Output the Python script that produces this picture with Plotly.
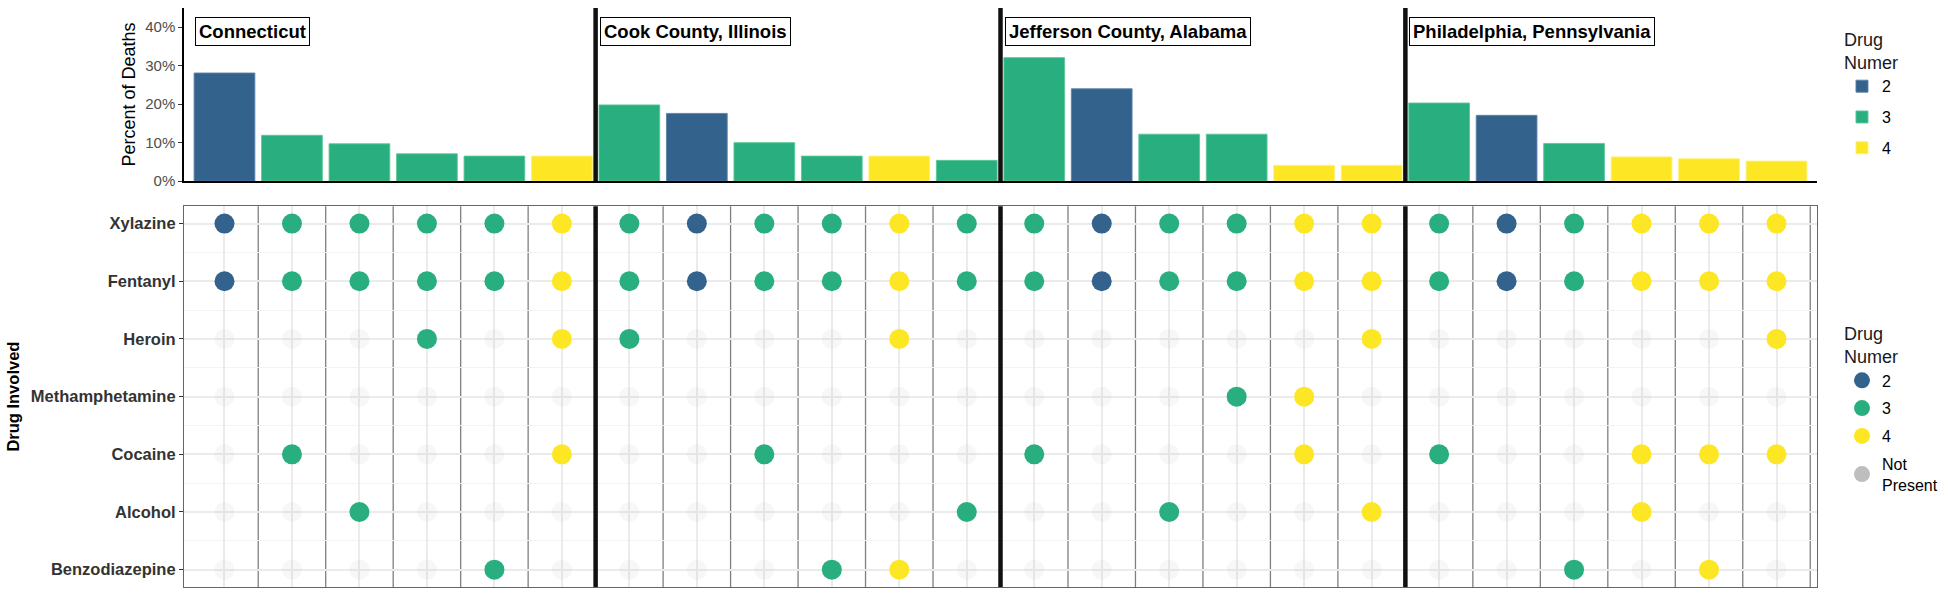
import plotly.graph_objects as go

# ---------------- data ----------------
regions = ["Connecticut", "Cook County, Illinois",
           "Jefferson County, Alabama", "Philadelphia, Pennsylvania"]

drugs = ["Xylazine", "Fentanyl", "Heroin", "Methamphetamine",
         "Cocaine", "Alcohol", "Benzodiazepine"]

# number of drugs in each combination (one per column, 6 per region)
drug_numer = [2, 3, 3, 3, 3, 4,
              3, 2, 3, 3, 4, 3,
              3, 2, 3, 3, 4, 4,
              3, 2, 3, 4, 4, 4]

# percent of deaths for each combination
pct_deaths = [28.1, 11.9, 9.7, 7.1, 6.5, 6.5,
              19.8, 17.6, 10.0, 6.5, 6.5, 5.4,
              32.1, 24.0, 12.2, 12.2, 4.1, 4.1,
              20.3, 17.1, 9.8, 6.3, 5.8, 5.2]

# drugs present in each combination
combos = [
    ["Xylazine", "Fentanyl"],
    ["Xylazine", "Fentanyl", "Cocaine"],
    ["Xylazine", "Fentanyl", "Alcohol"],
    ["Xylazine", "Fentanyl", "Heroin"],
    ["Xylazine", "Fentanyl", "Benzodiazepine"],
    ["Xylazine", "Fentanyl", "Heroin", "Cocaine"],
    ["Xylazine", "Fentanyl", "Heroin"],
    ["Xylazine", "Fentanyl"],
    ["Xylazine", "Fentanyl", "Cocaine"],
    ["Xylazine", "Fentanyl", "Benzodiazepine"],
    ["Xylazine", "Fentanyl", "Heroin", "Benzodiazepine"],
    ["Xylazine", "Fentanyl", "Alcohol"],
    ["Xylazine", "Fentanyl", "Cocaine"],
    ["Xylazine", "Fentanyl"],
    ["Xylazine", "Fentanyl", "Alcohol"],
    ["Xylazine", "Fentanyl", "Methamphetamine"],
    ["Xylazine", "Fentanyl", "Methamphetamine", "Cocaine"],
    ["Xylazine", "Fentanyl", "Heroin", "Alcohol"],
    ["Xylazine", "Fentanyl", "Cocaine"],
    ["Xylazine", "Fentanyl"],
    ["Xylazine", "Fentanyl", "Benzodiazepine"],
    ["Xylazine", "Fentanyl", "Cocaine", "Alcohol"],
    ["Xylazine", "Fentanyl", "Cocaine", "Benzodiazepine"],
    ["Xylazine", "Fentanyl", "Heroin", "Cocaine"],
]

pct_ticks = [0, 10, 20, 30, 40]
pct_tick_labels = ["0%", "10%", "20%", "30%", "40%"]

levels = [2, 3, 4]
level_colors = {2: "#33638D", 3: "#29AF7F", 4: "#FDE725"}
level_edges = {2: "rgba(90,130,170,0.9)", 3: "rgba(90,200,150,0.9)", 4: "rgba(253,240,120,0.9)"}
absent_color = "rgba(190,190,190,0.12)"
legend_absent = "#BEBEBE"

FONT = "Liberation Sans, Arial, sans-serif"

n_cols = len(drug_numer)
per_region = n_cols // len(regions)
cols = list(range(1, n_cols + 1))
row_of = {d: len(drugs) - i for i, d in enumerate(drugs)}

fig = go.Figure()

# ---------------- bars (top panel) ----------------
for lv in levels:
    xs = [c for c, d in zip(cols, drug_numer) if d == lv]
    ys = [p for p, d in zip(pct_deaths, drug_numer) if d == lv]
    fig.add_trace(go.Bar(
        x=xs, y=ys, name=str(lv), width=0.9, legendgroup=f"bar{lv}",
        marker=dict(color=level_colors[lv], line=dict(color=level_edges[lv], width=1)),
        xaxis="x", yaxis="y", legend="legend", hoverinfo="x+y"))

# ---------------- dot matrix (bottom panel) ----------------
ax, ay = [], []
for c, combo in zip(cols, combos):
    for d in drugs:
        if d not in combo:
            ax.append(c)
            ay.append(row_of[d])
fig.add_trace(go.Scatter(
    x=ax, y=ay, mode="markers", showlegend=False, legendgroup="absent",
    marker=dict(size=20, color=absent_color, line=dict(width=0)),
    xaxis="x2", yaxis="y2", hoverinfo="skip"))

for lv in levels:
    xs, ys = [], []
    for c, combo, d in zip(cols, combos, drug_numer):
        if d != lv:
            continue
        for drug in combo:
            xs.append(c)
            ys.append(row_of[drug])
    fig.add_trace(go.Scatter(
        x=xs, y=ys, mode="markers", name=str(lv), legendgroup=f"dot{lv}",
        marker=dict(size=20, color=level_colors[lv], line=dict(width=0)),
        xaxis="x2", yaxis="y2", legend="legend2"))

fig.add_trace(go.Scatter(
    x=[None], y=[None], mode="markers", name="Not<br>Present", legendgroup="absent",
    marker=dict(size=20, color=legend_absent, line=dict(width=0)),
    xaxis="x2", yaxis="y2", legend="legend2"))

# ---------------- separator lines ----------------
shapes = []
region_bounds = [k * per_region + 0.5 for k in range(1, len(regions))]
for b in [c + 0.5 for c in cols]:
    if b in region_bounds:
        shapes.append(dict(type="line", xref="x", yref="y domain", x0=b, x1=b, y0=0, y1=1,
                           line=dict(color="#111111", width=4.5), layer="above"))
        shapes.append(dict(type="line", xref="x2", yref="y2 domain", x0=b, x1=b, y0=0, y1=1,
                           line=dict(color="#111111", width=4.5), layer="above"))
    else:
        shapes.append(dict(type="line", xref="x2", yref="y2 domain", x0=b, x1=b, y0=0, y1=1,
                           line=dict(color="#7F7F7F", width=1.3), layer="below"))

# ---------------- facet labels ----------------
annotations = []
for k, r in enumerate(regions):
    annotations.append(dict(
        text=f"<b>{r}</b>", x=k * per_region + 0.5, xref="x", y=0.863, yref="y domain",
        xanchor="left", yanchor="middle", xshift=4, showarrow=False,
        font=dict(family=FONT, size=18.5, color="black"),
        bordercolor="black", borderwidth=1, borderpad=3, bgcolor="white"))

xrange = [0.4, n_cols + 0.6]

fig.update_layout(
    width=1950, height=602,
    margin=dict(l=184, r=127, t=8, b=7),
    paper_bgcolor="white", plot_bgcolor="white",
    font=dict(family=FONT, color="black"),
    shapes=shapes, annotations=annotations,
    xaxis=dict(domain=[0, 1], range=xrange, anchor="y", showline=True, linecolor="black",
               linewidth=2, ticks="", showticklabels=False, showgrid=False, zeroline=False),
    yaxis=dict(domain=[0.701, 1], range=[0, 45], anchor="x",
               tickmode="array", tickvals=pct_ticks, ticktext=pct_tick_labels,
               ticks="outside", ticklen=4,
               tickwidth=1.2, tickcolor="#333333", showline=True, linecolor="black", linewidth=1.5,
               tickfont=dict(family=FONT, size=15, color="#4D4D4D"),
               title=dict(text="Percent of Deaths", font=dict(family=FONT, size=18, color="black"),
                          standoff=5),
               showgrid=False, zeroline=False),
    xaxis2=dict(domain=[0, 1], range=xrange, anchor="y2", tickvals=cols, showticklabels=False,
                ticks="", showgrid=True, gridcolor="#EBEBEB", gridwidth=1.5,
                showline=True, linecolor="#666666", linewidth=1.2, mirror=True, zeroline=False),
    yaxis2=dict(domain=[0, 0.6576], range=[0.7, len(drugs) + 0.3], anchor="x2",
                tickvals=[row_of[d] for d in drugs], ticktext=drugs,
                ticks="outside", ticklen=4, tickwidth=1.2, tickcolor="#333333",
                tickfont=dict(family=FONT, size=16.5, color="#333333", weight="bold"),
                showgrid=True, gridcolor="#EBEBEB", gridwidth=1.5,
                minor=dict(tickvals=[i + 0.5 for i in range(1, len(drugs))], showgrid=True,
                           gridcolor="#F3F3F3", gridwidth=1, ticks=""),
                showline=True, linecolor="#666666", linewidth=1.2, mirror=True, zeroline=False,
                title=dict(text="Drug Involved",
                           font=dict(family=FONT, size=16.5, color="black", weight="bold"),
                           standoff=6)),
    legend=dict(x=1.0153, y=0.975, xanchor="left", yanchor="top",
                title=dict(text="Drug<br>Numer", font=dict(family=FONT, size=18, color="#1a1a1a")),
                font=dict(family=FONT, size=16, color="black"), bgcolor="rgba(0,0,0,0)",
                tracegroupgap=7),
    legend2=dict(x=1.0153, y=0.467, xanchor="left", yanchor="top",
                 title=dict(text="Drug<br>Numer", font=dict(family=FONT, size=18, color="#1a1a1a")),
                 font=dict(family=FONT, size=16, color="black"), bgcolor="rgba(0,0,0,0)",
                 tracegroupgap=4),
    showlegend=True,
)

fig.write_html("out.html", config={"displayModeBar": False},
               post_script="document.body.style.margin='0';document.body.style.overflow='hidden';")
